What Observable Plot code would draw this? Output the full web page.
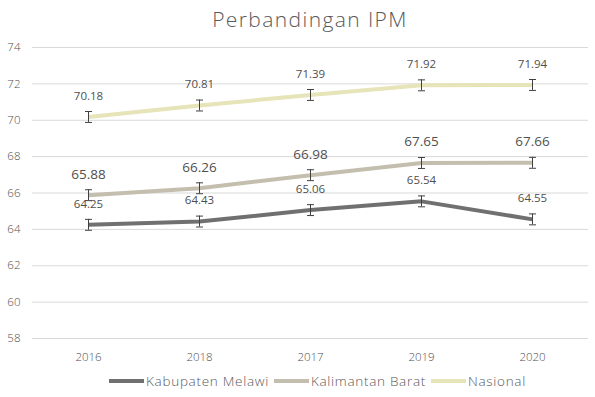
<!DOCTYPE html>
<html>
<head>
<meta charset="utf-8">
<script src="https://cdn.jsdelivr.net/npm/d3@7"></script>
<script src="https://cdn.jsdelivr.net/npm/@observablehq/plot@0.6"></script>
<style>
  html, body { margin: 0; padding: 0; background: #fff; width: 595px; height: 397px; overflow: hidden; }
  body { font-family: "Open Sans", "Lato", sans-serif; color: #595959; }
  #title { height: 36px; box-sizing: border-box; padding-top: 6px; padding-left: 25px; text-align: center; font-size: 21px; font-weight: 300; letter-spacing: 1.4px; color: #595959; line-height: 26px; }
  #legend { display: flex; justify-content: center; align-items: center; gap: 5px; font-size: 13.5px; font-weight: 300; letter-spacing: 0.7px; color: #595959; padding-left: 40px; margin-top: 4px; }
  .item { display: flex; align-items: center; gap: 2px; }
  .sw { width: 35px; height: 4px; display: inline-block; }
</style>
</head>
<body>
<div id="title">Perbandingan IPM</div>
<div id="chart"></div>
<div id="legend"></div>
<script>
const categories = ["2016", "2018", "2017", "2019", "2020"];
const seriesNames = ["Kabupaten Melawi", "Kalimantan Barat", "Nasional"];
const melawi = [64.25, 64.43, 65.06, 65.54, 64.55];
const kalbar = [65.88, 66.26, 66.98, 67.65, 67.66];
const nasional = [70.18, 70.81, 71.39, 71.92, 71.94];
const errorHalf = 0.3;
const yTicks = [58, 60, 62, 64, 66, 68, 70, 72, 74];
const colors = ["#707070", "#c3beae", "#e6e4b8"];
const labelSizes = [11.5, 13.5, 11.5];

const valuesBySeries = [melawi, kalbar, nasional];
const data = [];
seriesNames.forEach((s, si) => {
  categories.forEach((c, ci) => {
    data.push({series: s, cat: c, value: valuesBySeries[si][ci], lo: valuesBySeries[si][ci] - errorHalf, hi: valuesBySeries[si][ci] + errorHalf});
  });
});

const capSymbol = { draw(ctx, size) { const w = 3.5; ctx.moveTo(-w, 0); ctx.lineTo(w, 0); } };

const marks = [
  Plot.gridY(yTicks, {stroke: "#d9d9d9", strokeOpacity: 1, strokeWidth: 1}),
  Plot.axisY(yTicks, {tickSize: 0, tickPadding: 12, fontSize: 11.5, fill: "#4f4f4f", textAnchor: "end", label: null}),
  Plot.axisX({tickSize: 0, tickPadding: 14, fontSize: 11.5, fill: "#4f4f4f", label: null})
];
seriesNames.forEach((s, si) => {
  const d = data.filter(r => r.series === s);
  marks.push(Plot.line(d, {x: "cat", y: "value", stroke: colors[si], strokeWidth: 4, strokeLinejoin: "round", strokeLinecap: "butt"}));
});
seriesNames.forEach((s, si) => {
  const d = data.filter(r => r.series === s);
  marks.push(Plot.ruleX(d, {x: "cat", y1: "lo", y2: "hi", stroke: "#404040", strokeWidth: 1}));
  marks.push(Plot.dot(d, {x: "cat", y: "lo", symbol: capSymbol, stroke: "#404040", strokeWidth: 1, fill: "none"}));
  marks.push(Plot.dot(d, {x: "cat", y: "hi", symbol: capSymbol, stroke: "#404040", strokeWidth: 1, fill: "none"}));
});
seriesNames.forEach((s, si) => {
  const d = data.filter(r => r.series === s);
  marks.push(Plot.text(d, {x: "cat", y: "value", text: r => r.value.toFixed(2), dy: -21, fontSize: labelSizes[si], fill: "#4f4f4f", fontWeight: 400}));
});

const chart = Plot.plot({
  width: 595,
  height: 332,
  marginTop: 11,
  marginLeft: 32,
  marginRight: 7,
  marginBottom: 30,
  style: {fontFamily: "'Open Sans', Lato, sans-serif", fontWeight: 300, background: "#fff"},
  x: {type: "point", domain: categories, padding: 0.5},
  y: {domain: [58, 74]},
  marks
});
document.getElementById("chart").appendChild(chart);

const legend = document.getElementById("legend");
seriesNames.forEach((s, si) => {
  const it = document.createElement("div");
  it.className = "item";
  it.innerHTML = `<span class="sw" style="background:${colors[si]}"></span><span>${s}</span>`;
  legend.appendChild(it);
});
</script>
</body>
</html>
